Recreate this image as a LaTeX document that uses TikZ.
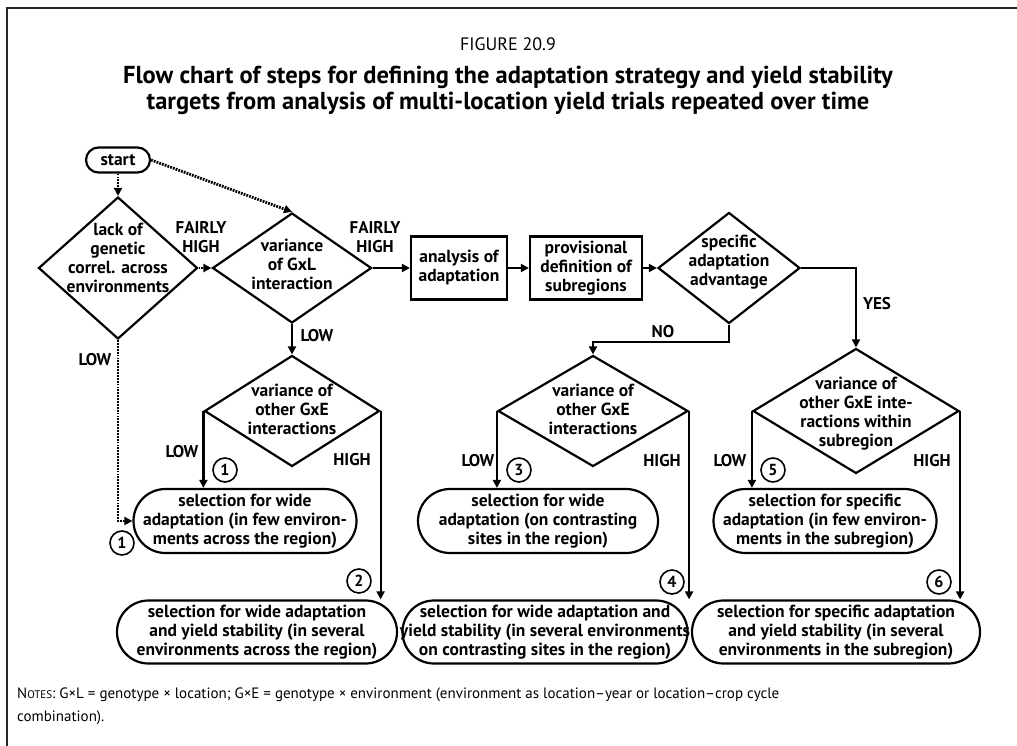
\documentclass[tikz,border=0pt]{standalone}
\usepackage{fontspec}
\setmainfont{PT Sans}
\usetikzlibrary{shapes.geometric, shapes.misc, arrows.meta, positioning}
\tikzset{
    x=1pt, y=-1pt, % one unit is one pixel of the page, y runs downwards
    >={Triangle[length=8pt,width=8pt]}, % small filled arrow heads
    every node/.style={font=\fontsize{17.5}{19}\selectfont\bfseries},
    flow/.style={->, line width=2.2pt}, % solid connector
    dotflow/.style={->, line width=2.8pt, dash pattern=on 1.8pt off 1.1pt}, % dotted connector
    dtext/.style={align=center, inner sep=0pt}, % text set on top of a shape
    decision/.style={diamond, draw, line width=2.2pt, inner sep=0pt},
    block/.style={rectangle, draw, line width=2.2pt, minimum height=63pt, inner sep=0pt, align=center},
    term/.style={rounded rectangle, draw, line width=2.2pt, minimum height=63pt, inner sep=0pt,
        label={[dtext]center:#1}},
    answer/.style={font=\fontsize{17}{19}\selectfont\bfseries, align=center, inner sep=0pt},
    num/.style={circle, draw, line width=1.6pt, minimum size=24pt, inner sep=0pt,
        font=\fontsize{16}{16}\selectfont\bfseries},
}

\begin{document}
\begin{tikzpicture}
\useasboundingbox (0,0) rectangle (1017,746);
\draw[line width=2pt, black!85] (7,746) -- (7,8) -- (1017,8);

% caption
\node[font=\fontsize{18}{22}\selectfont] (fig) at (508,44) {FIGURE 20.9};
\node[font=\fontsize{24.5}{26}\selectfont\bfseries, align=center] (head) at (508,90)
    {Flow chart of steps for defining the adaptation strategy and yield stability\\
     targets from analysis of multi-location yield trials repeated over time};

% top row
\node[term={start}, minimum width=64pt, minimum height=25pt] (start) at (118,160) {};
\node[decision, minimum width=159pt, minimum height=142pt,
    label={[dtext, yshift=10pt]center:lack of\\genetic\\correl. across\\environments}] (lack) at (118,268) {};
\node[decision, minimum width=159pt, minimum height=110pt,
    label={[dtext, yshift=4pt]center:variance\\of GxL\\interaction}] (gxl) at (292,268) {};
\node[block, minimum width=96pt] (ana) at (459,268) {analysis of\\adaptation};
\node[block, minimum width=112pt] (prov) at (586,268) {provisional\\definition of\\subregions};
\node[decision, minimum width=142pt, minimum height=111pt,
    label={[dtext, yshift=6pt]center:specific\\adaptation\\advantage}] (spec) at (729,268) {};

% second row
\node[decision, minimum width=175pt, minimum height=111pt,
    label={[dtext, yshift=2pt]center:variance of\\other GxE\\interactions}] (gxe1) at (292,411) {};
\node[decision, minimum width=190pt, minimum height=111pt,
    label={[dtext, yshift=2pt]center:variance of\\other GxE\\interactions}] (gxe2) at (593,411) {};
\node[decision, minimum width=206pt, minimum height=125pt,
    label={[dtext, yshift=-3pt]center:variance of\\other GxE inte-\\ractions within\\subregion}] (gxe3) at (856,411) {};

% outcomes
\node[term={selection for wide\\adaptation (in few environ-\\ments across the region)},
    minimum width=223pt, minimum height=64pt] (t1) at (245,521) {};
\node[term={selection for wide\\adaptation (on contrasting\\sites in the region)},
    minimum width=240pt, minimum height=64pt] (t3) at (538,521) {};
\node[term={selection for specific\\adaptation (in few environ-\\ments in the subregion)},
    minimum width=223pt, minimum height=64pt] (t5) at (825,521) {};
\node[term={selection for wide adaptation\\and yield stability (in several\\environments across the region)},
    minimum width=280pt] (t2) at (257,632) {};
\node[term={selection for wide adaptation and\\yield stability (in several environments\\on contrasting sites in the region)},
    minimum width=285pt] (t4) at (545,632) {};
\node[term={selection for specific adaptation\\and yield stability (in several\\environments in the subregion)},
    minimum width=288pt] (t6) at (836,632) {};

% connectors
\draw[dotflow] (start) -- (lack);
\draw[dotflow] (start.east) -- (gxl.north);
\draw[dotflow] (lack) -- (gxl);
\draw[dotflow] (lack.south) |- (t1.west);
\draw[flow] (gxl) -- (ana);
\draw[flow] (ana) -- (prov);
\draw[flow] (prov) -- (spec);
\draw[flow] (gxl) -- (gxe1);
\draw[flow] (spec.south) -- ++(0,17) -| (gxe2.north);
\draw[flow] (spec.east) -| (gxe3.north);
\draw[flow] (gxe1.west) -- (gxe1.west |- t1.north);
\draw[flow] (gxe1.east) -- (gxe1.east |- t2.north);
\draw[flow] (gxe2.west) -- (gxe2.west |- t3.north);
\draw[flow] (gxe2.east) -- (gxe2.east |- t4.north);
\draw[flow] (gxe3.west) -- (gxe3.west |- t5.north);
\draw[flow] (gxe3.east) -- (gxe3.east |- t6.north);

% answers
\node[answer] (fh1) at (201,237) {FAIRLY\\HIGH};
\node[answer] (fh2) at (375,237) {FAIRLY\\HIGH};
\node[answer] (low0) at (95,360) {LOW};
\node[answer] (low1) at (317,336) {LOW};
\node[answer] (no) at (663,332) {NO};
\node[answer] (yes) at (877,304) {YES};
\node[answer] (low2) at (182,452) {LOW};
\node[answer] (high2) at (352,460) {HIGH};
\node[answer] (low3) at (478,461) {LOW};
\node[answer] (high3) at (662,461) {HIGH};
\node[answer] (low4) at (730,461) {LOW};
\node[answer] (high4) at (932,461) {HIGH};

% numbered outcomes
\node[num] (n1a) at (225,470) {1};
\node[num] (n1b) at (122,543) {1};
\node[num] (n2) at (359,581) {2};
\node[num] (n3) at (519,470) {3};
\node[num] (n4) at (672,582) {4};
\node[num] (n5) at (773,470) {5};
\node[num] (n6) at (939,582) {6};

% notes
\node[font=\fontsize{15}{23}\selectfont, align=left, anchor=north west, inner sep=0pt] (notes) at (17,688)
    {N{\fontsize{11}{23}\selectfont OTES}: G×L = genotype × location; G×E = genotype × environment (environment as location–year or location–crop cycle\\
     combination).};
\end{tikzpicture}
\end{document}
